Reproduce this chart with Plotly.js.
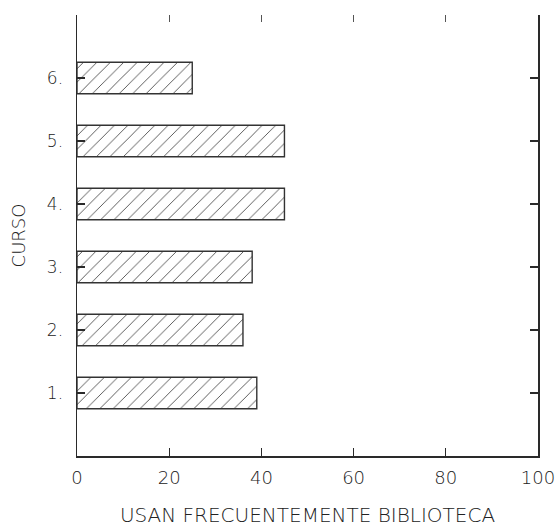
<!DOCTYPE html>
<html>
<head>
<meta charset="utf-8">
<script src="https://cdn.plot.ly/plotly-3.0.1.min.js"></script>
<style>
html,body{margin:0;padding:0;background:#fff;}
#chart{width:558px;height:527px;}
</style>
</head>
<body>
<div id="chart"></div>
<script>
// Data
const cursoPos = [1, 2, 3, 4, 5, 6];
const cursoLabels = ["1.", "2.", "3.", "4.", "5.", "6."];
const usanBiblioteca = [39, 36, 38, 45, 45, 25];
const xTicks = [0, 20, 40, 60, 80, 100];
const xTopTicks = [20, 40, 60, 80];

const FONT = "DejaVu Sans, Liberation Sans, sans-serif";
const TXT = "#222222";
const LINE = "#2a2a2a";

const traces = [
  {
    type: "bar",
    orientation: "h",
    x: usanBiblioteca,
    y: cursoPos,
    width: 0.5,
    marker: {
      color: "#ffffff",
      line: {color: "#333", width: 1.4},
      pattern: {shape: "/", fgcolor: "#555", bgcolor: "#ffffff", size: 9.5, solidity: 0.1}
    },
    hoverinfo: "skip",
    showlegend: false
  },
  {
    type: "scatter",
    mode: "markers",
    x: usanBiblioteca,
    y: cursoPos,
    xaxis: "x2",
    yaxis: "y",
    marker: {opacity: 0, size: 1},
    hoverinfo: "skip",
    showlegend: false
  }
];

const layout = {
  width: 558,
  height: 527,
  margin: {l: 77, r: 20, t: 15, b: 71},
  paper_bgcolor: "#ffffff",
  plot_bgcolor: "#ffffff",
  font: {family: FONT, color: TXT, size: 18, weight: 200},
  showlegend: false,
  xaxis: {
    range: [0, 100],
    tickvals: xTicks,
    ticktext: xTicks.map(String),
    ticks: "inside",
    ticklen: 8,
    tickwidth: 1.2,
    tickcolor: LINE,
    showline: true,
    linecolor: LINE,
    linewidth: 1.5,
    mirror: false,
    showgrid: false,
    zeroline: false,
    ticklabelstandoff: 5,
    tickfont: {family: FONT, size: 18, color: TXT, weight: 200},
    title: {text: "USAN FRECUENTEMENTE BIBLIOTECA", font: {family: FONT, size: 20, color: TXT, weight: 200}, standoff: 21},
    automargin: false,
    fixedrange: true
  },
  xaxis2: {
    overlaying: "x",
    side: "top",
    range: [0, 100],
    tickvals: xTopTicks,
    ticks: "inside",
    ticklen: 7,
    tickwidth: 1.2,
    tickcolor: "#555",
    showticklabels: false,
    showline: false,
    showgrid: false,
    zeroline: false,
    automargin: false,
    fixedrange: true
  },
  yaxis: {
    range: [0, 7],
    tickvals: cursoPos,
    ticktext: cursoLabels,
    ticks: "inside",
    ticklen: 8,
    tickwidth: 1.2,
    tickcolor: LINE,
    showline: true,
    linecolor: LINE,
    linewidth: 1.5,
    mirror: "ticks",
    showgrid: false,
    zeroline: false,
    layer: "above traces",
    ticklabelstandoff: 9,
    tickfont: {family: FONT, size: 17, color: TXT, weight: 200},
    title: {text: "CURSO", font: {family: FONT, size: 18, color: TXT, weight: 200}, standoff: 16},
    automargin: false,
    fixedrange: true
  },
  bargap: 0.5
};

Plotly.newPlot("chart", traces, layout, {displayModeBar: false, staticPlot: true});
</script>
</body>
</html>
